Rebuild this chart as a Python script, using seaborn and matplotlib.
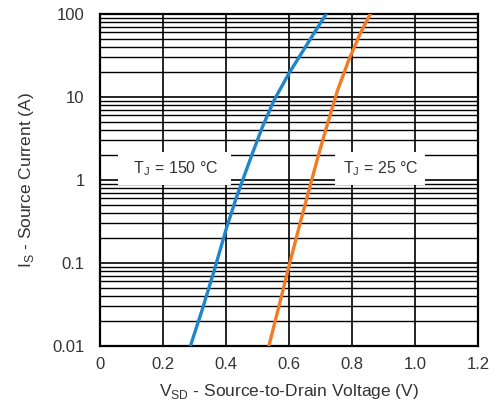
import matplotlib
matplotlib.use("Agg")
import matplotlib.pyplot as plt
import seaborn as sns
import pandas as pd
import numpy as np
from matplotlib.ticker import LogLocator, FixedLocator, NullFormatter

# Data
v_150 = [0.287, 0.324, 0.362, 0.401, 0.432, 0.453, 0.484, 0.516, 0.553, 0.600, 0.668, 0.718]
i_150 = [0.01, 0.027, 0.08, 0.26, 0.60, 1.0, 2.1, 4.4, 9.2, 19.3, 50.0, 100.0]
v_25 = [0.536, 0.567, 0.600, 0.637, 0.672, 0.698, 0.724, 0.754, 0.790, 0.825, 0.858]
i_25 = [0.01, 0.029, 0.092, 0.32, 1.0, 2.3, 5.0, 12.0, 28.0, 57.0, 100.0]
x_ticks = [0, 0.2, 0.4, 0.6, 0.8, 1.0, 1.2]
x_labels = ["0", "0.2", "0.4", "0.6", "0.8", "1.0", "1.2"]
y_ticks = [0.01, 0.1, 1, 10, 100]
y_labels = ["0.01", "0.1", "1", "10", "100"]

df = pd.concat([
    pd.DataFrame({"V": v_150, "I": i_150, "T": "150"}),
    pd.DataFrame({"V": v_25, "I": i_25, "T": "25"}),
])

sns.set_style("white")
plt.rcParams['font.family'] = ['Liberation Sans', 'DejaVu Sans']

fig = plt.figure(figsize=(4.91, 4.12), dpi=100)
ax = fig.add_axes([100/491, 1-346/412, 378/491, 332/412])

sns.lineplot(data=df, x="V", y="I", hue="T", sort=False, estimator=None,
             palette={"150": "#1d86cc", "25": "#f47a24"}, linewidth=2.4,
             legend=False, ax=ax, zorder=5)

ax.set_yscale("log")
ax.set_xlim(0, 1.2)
ax.set_ylim(0.01, 100)
ax.xaxis.set_major_locator(FixedLocator(x_ticks))
ax.set_xticklabels(x_labels)
ax.yaxis.set_major_locator(FixedLocator(y_ticks))
ax.set_yticklabels(y_labels)
ax.yaxis.set_minor_locator(LogLocator(base=10, subs=np.arange(2, 10)))
ax.yaxis.set_minor_formatter(NullFormatter())

ax.grid(True, which="major", axis="both", color="black", linewidth=1.2)
ax.grid(True, which="minor", axis="y", color="black", linewidth=1.0)
ax.set_axisbelow(True)

for s in ax.spines.values():
    s.set_color("black")
    s.set_linewidth(1.6)

ax.tick_params(axis="both", which="both", length=0, labelsize=12, colors="#333333")
ax.tick_params(axis="y", pad=11)
ax.tick_params(axis="x", pad=8)

ax.set_xlabel("V$_{\\mathregular{SD}}$ - Source-to-Drain Voltage (V)", fontsize=12.5,
              color="#333333", labelpad=7)
ax.set_ylabel("I$_{\\mathregular{S}}$ - Source Current (A)", fontsize=12.5,
              color="#333333", labelpad=12)

box = dict(boxstyle="square,pad=0.45", facecolor="white", edgecolor="none")
ax.text(0.235, 1.38, "  T$_{\\mathregular{J}}$ = 150 °C  ", fontsize=11.5, color="#333333",
        ha="center", va="center", bbox=box, zorder=6)
ax.text(0.89, 1.38, "T$_{\\mathregular{J}}$ = 25 °C", fontsize=11.5, color="#333333",
        ha="center", va="center", bbox=box, zorder=6)

fig.savefig("out.png", dpi=100)
